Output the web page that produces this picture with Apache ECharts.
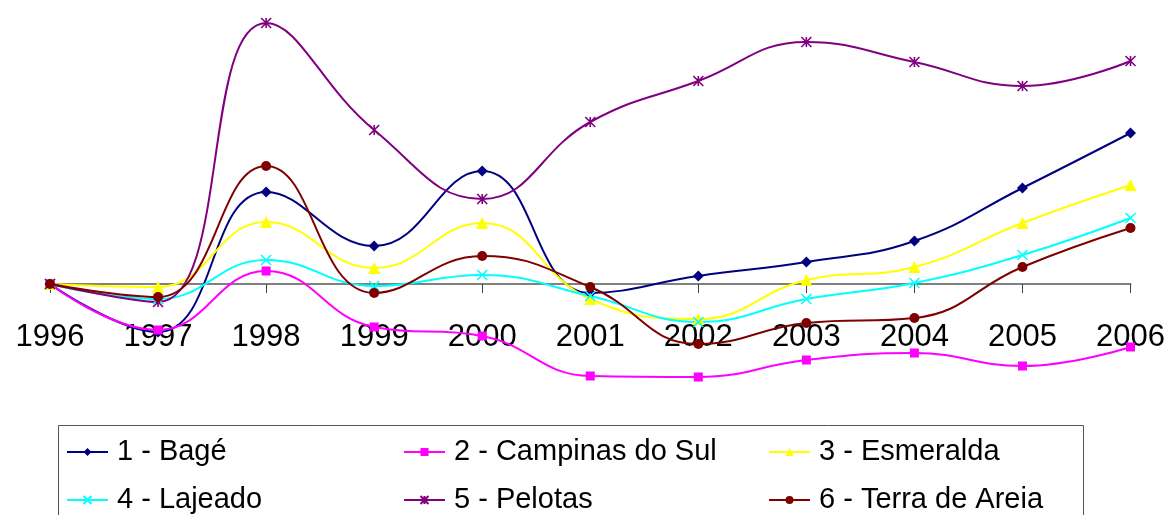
<!DOCTYPE html>
<html>
<head>
<meta charset="utf-8">
<script src="https://cdn.jsdelivr.net/npm/echarts@6/dist/echarts.min.js"></script>
<style>
html,body{margin:0;padding:0;background:#fff;}
#chart{width:1168px;height:515px;}
</style>
</head>
<body>
<div id="chart"></div>
<script>
var years = ['1996','1997','1998','1999','2000','2001','2002','2003','2004','2005','2006'];
var bage      = [0, -48, 92, 38, 113, -9, 8, 22, 43, 96, 151];
var campinas  = [0, -46, 13, -43, -52, -92, -93, -76, -69, -82, -63];
var esmeralda = [0, -3, 62, 16, 61, -15, -35, 4, 17, 61, 99];
var lajeado   = [0, -15, 24, -2, 9, -12, -38, -15, 1, 29, 66];
var pelotas   = [0, -18, 261, 154, 85, 162, 203, 242, 222, 198, 223];
var terra     = [0, -13, 118, -9, 28, -3, -60, -39, -34, 17, 56];
var names = ['1 - Bagé','2 - Campinas do Sul','3 - Esmeralda','4 - Lajeado','5 - Pelotas','6 - Terra de Areia'];

var FONT = '"Liberation Sans", Arial, sans-serif';
var X_PATH = 'path://M0,0L10,10M0,10L10,0';
var STAR_PATH = 'path://M0,0L10,10M0,10L10,0M5,0L5,10';

function mk(name, data, color, symbol, size, stroke) {
  return {
    name: name, type: 'line', data: data, smooth: 0.45,
    symbol: symbol, symbolSize: size, showSymbol: true,
    lineStyle: {color: color, width: 2},
    itemStyle: stroke ? {color: color, borderColor: color, borderWidth: 1.6} : {color: color, borderWidth: 0},
    emphasis: {disabled: true}
  };
}

var chart = echarts.init(document.getElementById('chart'));
var legendCols = [66, 403, 768];
var legendRows = [436, 484];
var legends = names.map(function (n, i) {
  return {
    orient: 'horizontal', itemWidth: 41, itemHeight: 10, padding: 0,
    textStyle: {fontFamily: FONT, fontSize: 29, color: '#000', lineHeight: 32, padding: [0,0,0,4]},
    selectedMode: false,
    left: legendCols[i % 3], top: legendRows[Math.floor(i / 3)],
    data: [n]
  };
});
chart.setOption({
  animation: false,
  backgroundColor: '#fff',
  grid: {left: 50, right: 36, top: 14, height: 370},
  xAxis: {
    type: 'category', data: years, boundaryGap: false,
    axisLine: {onZero: true, lineStyle: {color: '#808080', width: 2}},
    axisTick: {show: true, length: 9, lineStyle: {color: '#404040', width: 1}},
    axisLabel: {fontFamily: FONT, fontSize: 31, color: '#000', margin: -62, interval: 0},
    splitLine: {show: false}
  },
  yAxis: {type: 'value', min: -100, max: 270, show: false, splitLine: {show: false}},
  legend: legends,
  graphic: [{
    type: 'rect', left: 56, top: 423, silent: true,
    shape: {width: 1025, height: 110},
    style: {fill: 'none', stroke: '#555', lineWidth: 1}
  }],
  series: [
    mk(names[0], bage, '#000080', 'diamond', 11, false),
    mk(names[1], campinas, '#FF00FF', 'rect', 9, false),
    mk(names[2], esmeralda, '#FFFF00', 'triangle', 12, false),
    mk(names[3], lajeado, '#00FFFF', X_PATH, 10, true),
    mk(names[4], pelotas, '#800080', STAR_PATH, 10, true),
    mk(names[5], terra, '#800000', 'circle', 10, false)
  ]
});
</script>
</body>
</html>
